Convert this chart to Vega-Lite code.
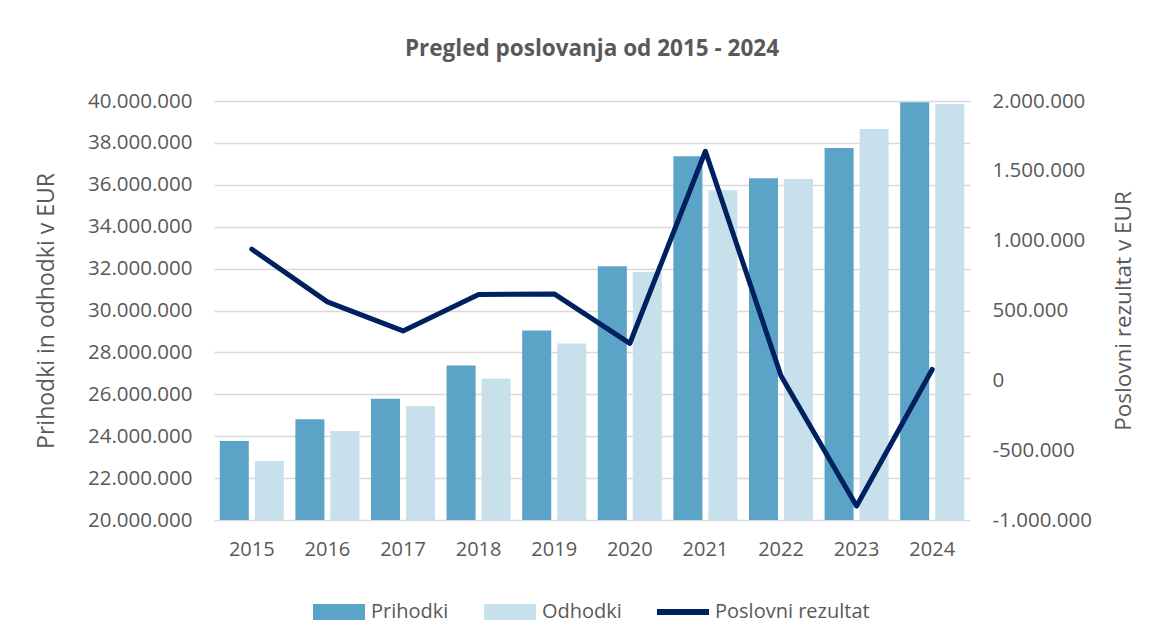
{
  "$schema": "https://vega.github.io/schema/vega-lite/v6.json",
  "autosize": {"type": "none"},
  "width": 756,
  "height": 419,
  "padding": {"left": 214, "top": 101, "right": 185, "bottom": 114},
  "background": "white",
  "config": {
    "locale": {"number": {"decimal": ",", "thousands": ".", "grouping": [3], "currency": ["", " €"], "minus": "-"}},
    "view": {"stroke": null},
    "font": "Open Sans",
    "axis": {"labelFont": "Open Sans", "titleFont": "Open Sans", "labelColor": "#595959", "titleColor": "#595959", "titleFontWeight": "normal"}
  },
  "title": {
    "text": "Pregled poslovanja od 2015 - 2024",
    "font": "Open Sans",
    "fontSize": 22.5,
    "fontWeight": "bold",
    "color": "#595959",
    "anchor": "middle",
    "frame": "group",
    "baseline": "alphabetic",
    "offset": 13
  },
  "datasets": {
    "stolpci": [
      {"leto": "2015", "serija": "Prihodki", "vrednost": 23770000},
      {"leto": "2015", "serija": "Odhodki", "vrednost": 22820000},
      {"leto": "2016", "serija": "Prihodki", "vrednost": 24810000},
      {"leto": "2016", "serija": "Odhodki", "vrednost": 24250000},
      {"leto": "2017", "serija": "Prihodki", "vrednost": 25790000},
      {"leto": "2017", "serija": "Odhodki", "vrednost": 25440000},
      {"leto": "2018", "serija": "Prihodki", "vrednost": 27370000},
      {"leto": "2018", "serija": "Odhodki", "vrednost": 26760000},
      {"leto": "2019", "serija": "Prihodki", "vrednost": 29050000},
      {"leto": "2019", "serija": "Odhodki", "vrednost": 28420000},
      {"leto": "2020", "serija": "Prihodki", "vrednost": 32110000},
      {"leto": "2020", "serija": "Odhodki", "vrednost": 31840000},
      {"leto": "2021", "serija": "Prihodki", "vrednost": 37360000},
      {"leto": "2021", "serija": "Odhodki", "vrednost": 35740000},
      {"leto": "2022", "serija": "Prihodki", "vrednost": 36310000},
      {"leto": "2022", "serija": "Odhodki", "vrednost": 36280000},
      {"leto": "2023", "serija": "Prihodki", "vrednost": 37760000},
      {"leto": "2023", "serija": "Odhodki", "vrednost": 38660000},
      {"leto": "2024", "serija": "Prihodki", "vrednost": 39940000},
      {"leto": "2024", "serija": "Odhodki", "vrednost": 39860000}
    ],
    "rezultat": [
      {"leto": "2015", "serija": "Poslovni rezultat", "vrednost": 939000},
      {"leto": "2016", "serija": "Poslovni rezultat", "vrednost": 562000},
      {"leto": "2017", "serija": "Poslovni rezultat", "vrednost": 354000},
      {"leto": "2018", "serija": "Poslovni rezultat", "vrednost": 615000},
      {"leto": "2019", "serija": "Poslovni rezultat", "vrednost": 619000},
      {"leto": "2020", "serija": "Poslovni rezultat", "vrednost": 264000},
      {"leto": "2021", "serija": "Poslovni rezultat", "vrednost": 1640000},
      {"leto": "2022", "serija": "Poslovni rezultat", "vrednost": 33000},
      {"leto": "2023", "serija": "Poslovni rezultat", "vrednost": -900000},
      {"leto": "2024", "serija": "Poslovni rezultat", "vrednost": 78000}
    ]
  },
  "encoding": {
    "x": {
      "field": "leto",
      "type": "nominal",
      "sort": null,
      "scale": {"paddingInner": 0.153, "paddingOuter": 0.0765},
      "axis": {"title": null, "labelAngle": 0, "domain": false, "ticks": false, "tickSize": 0, "labelPadding": 19, "labelFontSize": 20, "grid": false}
    }
  },
  "layer": [
    {
      "data": {"name": "stolpci"},
      "mark": {"type": "bar"},
      "encoding": {
        "xOffset": {"field": "serija", "type": "nominal", "sort": ["Prihodki", "Odhodki"], "scale": {"paddingInner": 0.171, "paddingOuter": 0}},
        "y": {
          "field": "vrednost",
          "type": "quantitative",
          "scale": {"domain": [20000000, 40000000], "nice": false, "zero": false},
          "axis": {
            "title": "Prihodki in odhodki v EUR",
            "titleFontSize": 23,
            "titlePadding": 29,
            "values": [20000000, 22000000, 24000000, 26000000, 28000000, 30000000, 32000000, 34000000, 36000000, 38000000, 40000000],
            "format": ",d",
            "labelFontSize": 20.5,
            "labelPadding": 22,
            "ticks": false,
            "tickSize": 0,
            "domain": false,
            "grid": true,
            "gridColor": "#D9D9D9",
            "gridWidth": 1.3
          }
        },
        "y2": {"datum": 20000000},
        "color": {
          "field": "serija",
          "type": "nominal",
          "scale": {"domain": ["Prihodki", "Odhodki", "Poslovni rezultat"], "range": ["#5BA4C8", "#C7E0EC", "#002060"]},
          "legend": {
            "orient": "none",
            "legendX": 99,
            "legendY": 485,
            "direction": "horizontal",
            "title": null,
            "padding": 0,
            "labelFont": "Open Sans",
            "labelFontSize": 20,
            "labelColor": "#595959",
            "labelOffset": 6,
            "columnPadding": 35,
            "symbolSize": 2704,
            "symbolType": "M-1,-0.3077H1V0.3077H-1Z",
            "symbolStrokeWidth": 0,
            "symbolOpacity": 1,
            "encode": {
              "symbols": {
                "update": {
                  "shape": {"signal": "datum.value === 'Poslovni rezultat' ? 'M-1,-0.12H1V0.12H-1Z' : 'M-1,-0.3077H1V0.3077H-1Z'"},
                  "fill": {"scale": "color", "field": "value"},
                  "stroke": {"value": "transparent"},
                  "opacity": {"value": 1}
                }
              }
            }
          }
        }
      }
    },
    {
      "data": {"name": "rezultat"},
      "mark": {"type": "line", "strokeWidth": 5, "strokeCap": "round", "strokeJoin": "round"},
      "encoding": {
        "y": {
          "field": "vrednost",
          "type": "quantitative",
          "scale": {"domain": [-1000000, 2000000], "nice": false, "zero": false},
          "axis": {
            "orient": "right",
            "title": "Poslovni rezultat v EUR",
            "titleAngle": -90,
            "titleFontSize": 22.5,
            "titlePadding": 44,
            "values": [-1000000, -500000, 0, 500000, 1000000, 1500000, 2000000],
            "format": ",d",
            "labelFontSize": 20.5,
            "labelPadding": 22,
            "ticks": false,
            "tickSize": 0,
            "domain": false,
            "grid": false
          }
        },
        "color": {"field": "serija", "type": "nominal"}
      }
    }
  ],
  "resolve": {"scale": {"y": "independent"}}
}
